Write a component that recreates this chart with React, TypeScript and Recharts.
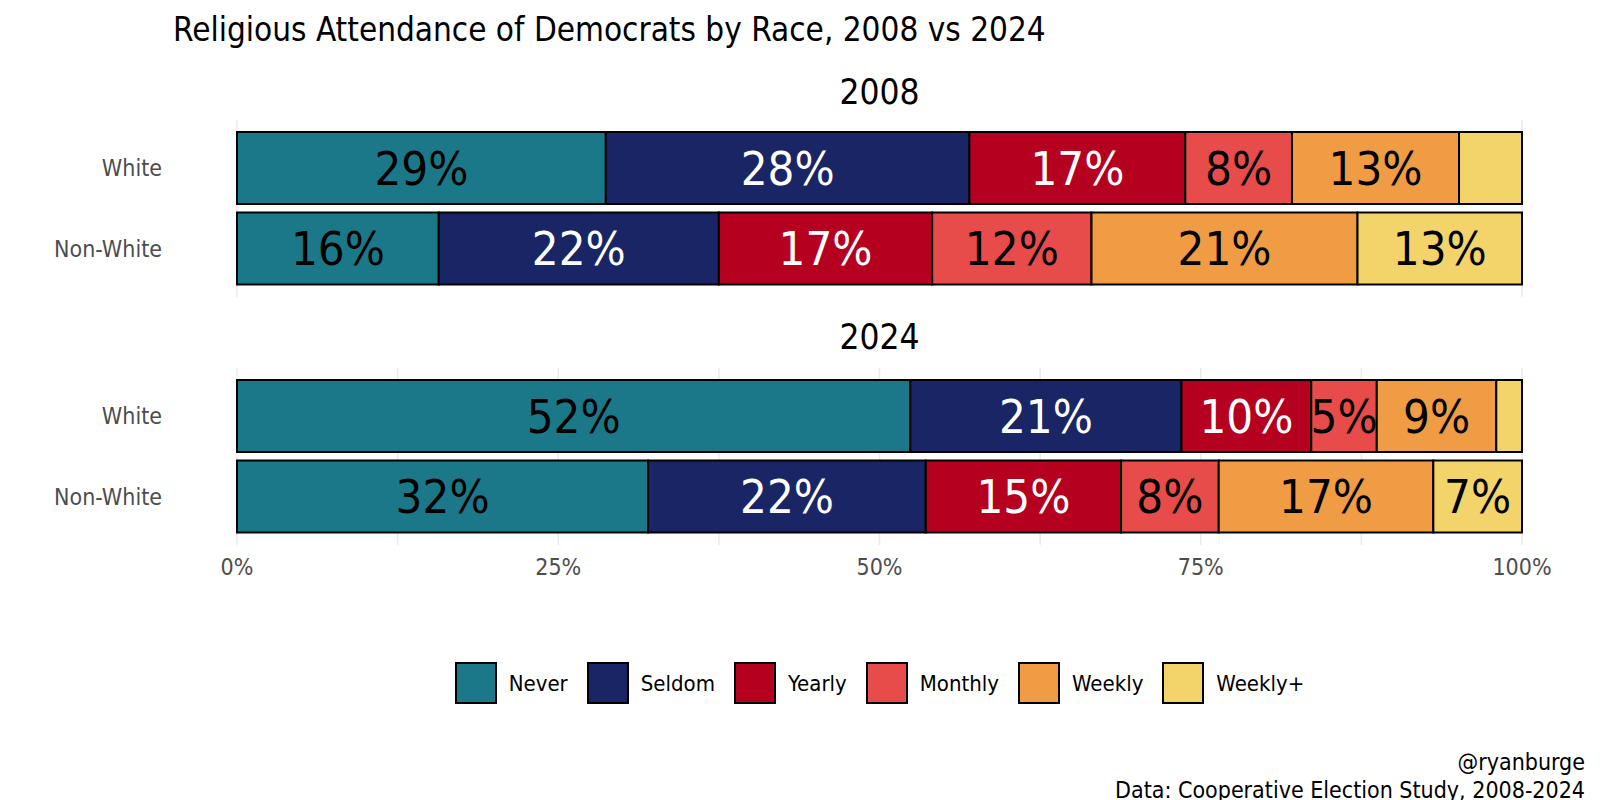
import { BarChart, Bar, XAxis, YAxis, CartesianGrid, LabelList, Legend } from "recharts";

const FONT = "'Liberation Sans Narrow', 'DejaVu Sans Condensed', 'Noto Sans', sans-serif";

const categories = ["Never", "Seldom", "Yearly", "Monthly", "Weekly", "Weekly+"];
const colors = ["#1b7889", "#1a2565", "#b6001f", "#e74c4a", "#ef9c44", "#f2d46a"];
const labelColors = ["#000000", "#ffffff", "#ffffff", "#000000", "#000000", "#000000"];
const races = ["White", "Non-White"];

const white2008 = [28.7, 28.3, 16.8, 8.3, 13.0, 4.9];
const nonWhite2008 = [15.7, 21.8, 16.6, 12.4, 20.7, 12.8];
const white2024 = [52.4, 21.1, 10.1, 5.1, 9.3, 2.0];
const nonWhite2024 = [32.0, 21.6, 15.2, 7.6, 16.7, 6.9];

const gridTicks = [0, 12.5, 25, 37.5, 50, 62.5, 75, 87.5, 100];
const axisLabels = [0, 25, 50, 75, 100];

const buildRows = (white: number[], nonWhite: number[]) =>
  [white, nonWhite].map((vals, i) => {
    const row: Record<string, any> = { race: races[i] };
    vals.forEach((v, j) => (row["k" + j] = v));
    return row;
  });

const rows2008 = buildRows(white2008, nonWhite2008);
const rows2024 = buildRows(white2024, nonWhite2024);

const makeLabel = (color: string) => (props: any) => {
  const { x, y, width, height, value } = props;
  if (value == null || Number(value) < 5) return null;
  return (
    <text
      x={Number(x) + Number(width) / 2}
      y={Number(y) + Number(height) / 2}
      dy="0.36em"
      textAnchor="middle"
      fill={color}
      fontSize={47}
      fontFamily={FONT}
    >
      {Math.round(Number(value))}%
    </text>
  );
};

const LegendContent = () => (
  <div style={{ display: "flex", justifyContent: "center", alignItems: "center", fontFamily: FONT, fontSize: 22 }}>
    {categories.map((c, i) => (
      <div key={c} style={{ display: "flex", alignItems: "center", marginRight: i < categories.length - 1 ? 19 : 0 }}>
        <div
          style={{
            width: 38,
            height: 38,
            background: colors[i],
            border: "2px solid #000",
            marginRight: 12,
          }}
        />
        <span style={{ color: "#000" }}>{c}</span>
      </div>
    ))}
  </div>
);

function Panel({ rows, showAxis, height, marginTop, marginBottom, legend }: any) {
  return (
    <BarChart
      width={1600}
      height={height}
      data={rows}
      layout="vertical"
      margin={{ top: marginTop, right: 78, left: 0, bottom: marginBottom }}
    >
      <CartesianGrid horizontal={false} vertical stroke="#ebebeb" strokeWidth={1.5} />
      <XAxis
        type="number"
        domain={[0, 100]}
        ticks={gridTicks}
        interval={0}
        axisLine={false}
        tickLine={false}
        tickSize={0}
        tickMargin={14}
        height={showAxis ? 40 : 0}
        tick={showAxis ? { fill: "#4d4d4d", fontSize: 23, fontFamily: FONT } : false}
        tickFormatter={(v: number) => (axisLabels.includes(v) ? `${v}%` : "")}
      />
      <YAxis
        type="category"
        dataKey="race"
        width={237}
        axisLine={false}
        tickLine={false}
        tickSize={0}
        tickMargin={75}
        padding={{ top: 8, bottom: 8 }}
        tick={{ fill: "#4d4d4d", fontSize: 23, fontFamily: FONT }}
      />
      {categories.map((c, i) => (
        <Bar
          key={c}
          dataKey={"k" + i}
          name={c}
          stackId="a"
          fill={colors[i]}
          stroke="#000"
          strokeWidth={2}
          barSize={72}
          isAnimationActive={false}
        >
          <LabelList dataKey={"k" + i} content={makeLabel(labelColors[i])} />
        </Bar>
      ))}
      {legend && (
        <Legend
          layout="horizontal"
          verticalAlign="middle"
          align="center"
          content={LegendContent}
          wrapperStyle={{ top: legend.top, left: 237, width: 1285 }}
        />
      )}
    </BarChart>
  );
}

export default function App() {
  return (
    <div style={{ position: "absolute", left: 0, top: 0, width: 1600, height: 800, background: "#fff", fontFamily: FONT }}>
      <div style={{ position: "absolute", left: 173, top: 10, fontSize: 33, color: "#000", whiteSpace: "nowrap" }}>
        Religious Attendance of Democrats by Race, 2008 vs 2024
      </div>
      <div style={{ position: "absolute", left: 237, width: 1285, top: 72, fontSize: 35, textAlign: "center" }}>2008</div>
      <div style={{ position: "absolute", left: 237, width: 1285, top: 317, fontSize: 35, textAlign: "center" }}>2024</div>
      <div style={{ position: "absolute", left: 0, top: 0 }}>
        <Panel rows={rows2008} showAxis={false} height={310} marginTop={120} marginBottom={13} />
      </div>
      <div style={{ position: "absolute", left: 0, top: 300 }}>
        <Panel rows={rows2024} showAxis height={500} marginTop={68} marginBottom={215} legend={{ top: 362 }} />
      </div>
      <div
        style={{
          position: "absolute",
          right: 15,
          top: 748,
          fontSize: 23,
          textAlign: "right",
          lineHeight: "28px",
          color: "#000",
        }}
      >
        @ryanburge
        <br />
        Data: Cooperative Election Study, 2008-2024
      </div>
    </div>
  );
}
